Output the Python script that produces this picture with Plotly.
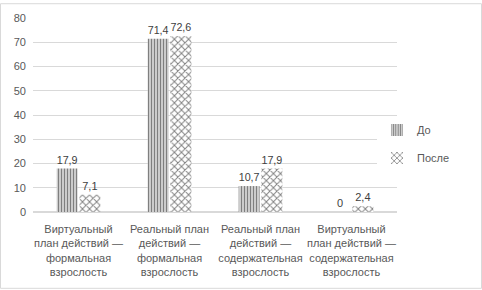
import plotly.graph_objects as go

categories = [
    "Виртуальный<br>план действий —<br>формальная<br>взрослость",
    "Реальный план<br>действий —<br>формальная<br>взрослость",
    "Реальный план<br>действий —<br>содержательная<br>взрослость",
    "Виртуальный<br>план действий —<br>содержательная<br>взрослость",
]
before = [17.9, 71.4, 10.7, 0]
after = [7.1, 72.6, 17.9, 2.4]
series_names = ["До", "После"]

def fmt(v):
    return ("%g" % v).replace(".", ",")

W, H = 482, 290
L, R, T, B = 33, 85, 15, 78
pw, ph = W - L - R, H - T - B

font = dict(family="Liberation Sans, Arial, sans-serif", size=11, color="#595959")

fig = go.Figure()
fig.add_trace(go.Bar(
    x=categories, y=before, name=series_names[0], legendgroup="a",
    text=[fmt(v) for v in before], textposition="outside", cliponaxis=False,
    textfont=dict(size=11, color="#404040"),
    marker=dict(color="white", line=dict(width=0),
                pattern=dict(shape="|", fgcolor="black", bgcolor="white", size=3, solidity=0.6)),
))
fig.add_trace(go.Bar(
    x=categories, y=after, name=series_names[1], legendgroup="b",
    text=[fmt(v) for v in after], textposition="outside", cliponaxis=False,
    textfont=dict(size=11, color="#404040"),
    marker=dict(color="white", line=dict(width=0),
                pattern=dict(shape="x", fgcolor="black", bgcolor="white", size=5, solidity=0.35)),
))

fig.update_layout(
    width=W, height=H,
    margin=dict(l=L, r=R, t=T, b=B),
    paper_bgcolor="white", plot_bgcolor="white",
    font=font,
    barmode="group", bargap=0.5, bargroupgap=0.08,
    showlegend=True,
    legend=dict(x=0.945, y=0.35, xanchor="left", yanchor="middle",
                font=dict(size=11, color="#595959"), itemwidth=30,
                traceorder="grouped", tracegroupgap=9),
    yaxis=dict(range=[0, 80], dtick=10, showgrid=True, gridcolor="#d9d9d9",
               gridwidth=1, zeroline=True, zerolinecolor="#d9d9d9",
               ticks="", tickfont=font, showline=False, ticklabelstandoff=6),
    xaxis=dict(showgrid=False, showline=False, ticks="", tickfont=font, tickangle=0,
               ticklabelstandoff=9),
    shapes=[dict(type="rect", xref="paper", yref="paper",
                 x0=(0.5 - L) / pw, x1=(W - 0.5 - L) / pw,
                 y0=(ph + T - (H - 0.5)) / ph,
                 y1=(ph + T - 0.5) / ph,
                 line=dict(color="#d9d9d9", width=1))],
)
fig.write_html("out.html", config={"displayModeBar": False},
               post_script="document.body.style.margin='0';")
